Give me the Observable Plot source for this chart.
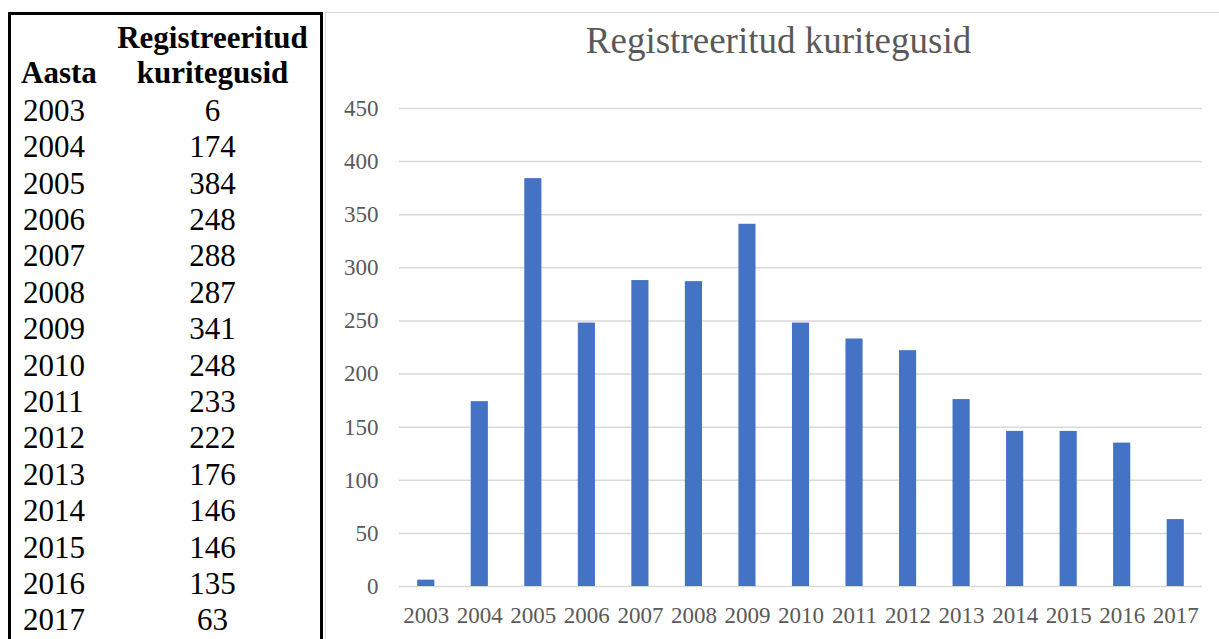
<!DOCTYPE html>
<html>
<head>
<meta charset="utf-8">
<script src="https://cdn.jsdelivr.net/npm/d3@7"></script>
<script src="https://cdn.jsdelivr.net/npm/@observablehq/plot@0.6"></script>
<style>
  html, body { margin: 0; padding: 0; background: #fff; width: 1219px; height: 639px; overflow: hidden; }
  body { position: relative; font-family: "Liberation Serif", "Times New Roman", serif; }
  #tbl { position: absolute; left: 8px; top: 12px; width: 309px; height: 700px;
         border: 3px solid #000; border-bottom: none; box-sizing: content-box; }
  .row { display: flex; font-size: 31px; line-height: 36.4px; color: #000; }
  .hdr { display: flex; font-size: 31px; line-height: 35px; font-weight: bold; color: #000; }
  .c1 { width: 94px; padding-left: 12px; box-sizing: border-box; }
  .c2 { width: 215px; text-align: center; }
  #panel { position: absolute; left: 325px; top: 12px; width: 900px; height: 700px;
           border-top: 1.5px solid #d9d9d9; border-left: 1.5px solid #d9d9d9; }
  #title { position: absolute; left: 0; top: 9px; width: 905px; text-align: center;
           font-size: 37px; line-height: 37px; color: #595959; }
  #chart { position: absolute; left: 325px; top: 80px; }
</style>
</head>
<body>
<div id="tbl"></div>
<div id="panel"><div id="title">Registreeritud kuritegusid</div></div>
<div id="chart"></div>
<script>
const years = ["2003","2004","2005","2006","2007","2008","2009","2010","2011","2012","2013","2014","2015","2016","2017"];
const counts = [6,174,384,248,288,287,341,248,233,222,176,146,146,135,63];
const yTicks = [0,50,100,150,200,250,300,350,400,450];
const colHeaders = ["Aasta", "Registreeritud kuritegusid"];

// Table
const tbl = document.getElementById("tbl");
const pad = document.createElement("div");
pad.style.height = "4.7px";
tbl.appendChild(pad);
const h1 = document.createElement("div"); h1.className = "hdr";
h1.innerHTML = `<div class="c1"></div><div class="c2">${colHeaders[1].split(" ")[0]}</div>`;
const h2 = document.createElement("div"); h2.className = "hdr";
h2.innerHTML = `<div class="c1" style="padding-left:10px">${colHeaders[0]}</div><div class="c2">${colHeaders[1].split(" ")[1]}</div>`;
tbl.appendChild(h1); tbl.appendChild(h2);
const gap = document.createElement("div"); gap.style.height = "3px"; tbl.appendChild(gap);
years.forEach((y, i) => {
  const r = document.createElement("div"); r.className = "row";
  r.innerHTML = `<div class="c1">${y}</div><div class="c2">${counts[i]}</div>`;
  tbl.appendChild(r);
});

// Chart
const data = years.map((y, i) => ({year: y, count: counts[i]}));
const font = '"Liberation Serif", "Times New Roman", serif';
const chart = Plot.plot({
  width: 894,
  height: 559,
  marginLeft: 74,
  marginRight: 17,
  marginTop: 28,
  marginBottom: 53,
  style: { fontFamily: font, fontSize: "23px", color: "#595959", background: "transparent", overflow: "visible" },
  x: { domain: years, paddingInner: 0.68, paddingOuter: 0.34, round: false, label: null },
  y: { domain: [0, 450], label: null },
  marks: [
    Plot.ruleY(yTicks, { stroke: "#d9d9d9", strokeWidth: 1.5 }),
    Plot.barY(data, { x: "year", y: "count", fill: "#4472C4" }),
    Plot.axisY({ ticks: yTicks, tickSize: 0, tickPadding: 21, label: null, fill: "#595959", fontSize: 23 }),
    Plot.axisX({ tickSize: 0, tickPadding: 20, label: null, fill: "#595959", fontSize: 23 })
  ]
});
document.getElementById("chart").appendChild(chart);
</script>
</body>
</html>
